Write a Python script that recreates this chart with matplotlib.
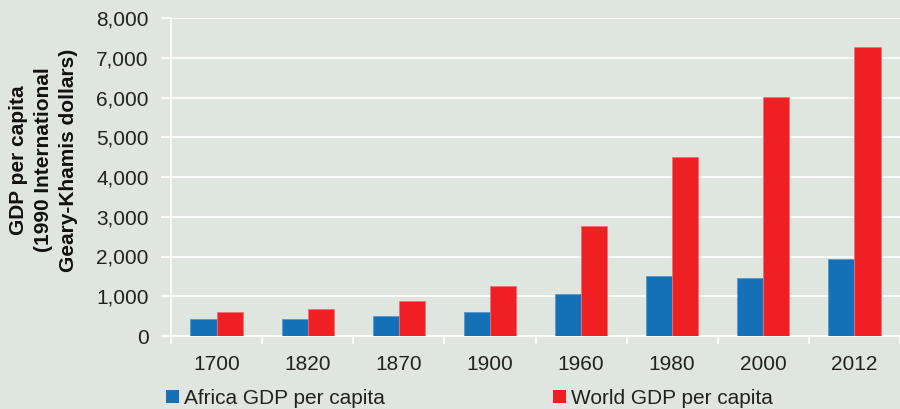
import numpy as np
import matplotlib.pyplot as plt
from matplotlib.patches import Patch

plt.rcParams['font.family'] = ['Liberation Sans', 'DejaVu Sans']

years = ['1700', '1820', '1870', '1900', '1960', '1980', '2000', '2012']
africa = [425, 420, 500, 600, 1060, 1515, 1450, 1930]
world = [615, 670, 875, 1260, 2775, 4500, 6020, 7260]

bg = '#dfe5df'
blue = '#1470b7'
red = '#ee2024'

fig = plt.figure(figsize=(9, 4.09), dpi=100, facecolor=bg)
ax = fig.add_axes([171 / 900, 73 / 409, 729 / 900, 318 / 409], facecolor=bg)

x = np.arange(len(years))
w = 0.287
ax.bar(x - w / 2, africa, w, color=blue, edgecolor='#5a98cc', linewidth=0.6, zorder=3)
ax.bar(x + w / 2, world, w, color=red, edgecolor='#f27070', linewidth=0.6, zorder=3)

ax.set_ylim(0, 8000)
# the category axis runs a little past the right edge of the picture
ax.set_xlim(-0.5, -0.5 + 729 / 92.3)
ax.set_yticks(np.arange(0, 8001, 1000))
ax.set_yticklabels([f'{v:,}' for v in range(0, 8001, 1000)], fontsize=15, color='#222222')
ax.grid(axis='y', color='white', linewidth=1.2, zorder=0)

ax.set_xticks(np.arange(-0.5, 8, 1))
ax.set_xticklabels([])
ax.set_xticks(x, minor=True)
ax.set_xticklabels(years, minor=True, fontsize=15, color='#222222')
ax.tick_params(axis='x', which='major', length=6, width=1.2, color='white')
ax.tick_params(axis='x', which='minor', length=0, pad=14)
ax.tick_params(axis='y', length=7, width=1.2, color='white', pad=9)

for s in ['top', 'right']:
    ax.spines[s].set_visible(False)
for s in ['left', 'bottom']:
    ax.spines[s].set_color('white')
    ax.spines[s].set_linewidth(1.2)

fig.text(44 / 900, 1 - 160 / 409, 'GDP per capita\n(1990 International\nGeary-Khamis dollars)',
         rotation=90, ha='center', va='center', multialignment='center',
         fontsize=15, fontweight='bold', color='#111111', linespacing=1.4)

handles = [Patch(facecolor=blue, label='Africa GDP per capita'),
           Patch(facecolor=red, label='World GDP per capita')]
fig.legend(handles=handles, loc='center left', bbox_to_anchor=(166 / 900, 1 - 398 / 409),
           ncol=2, frameon=False, fontsize=15, handlelength=0.6, handleheight=0.6,
           handletextpad=0.25, columnspacing=8.1, borderaxespad=0, borderpad=0,
           labelcolor='#222222')

fig.savefig('out.png', dpi=100, facecolor=bg)
